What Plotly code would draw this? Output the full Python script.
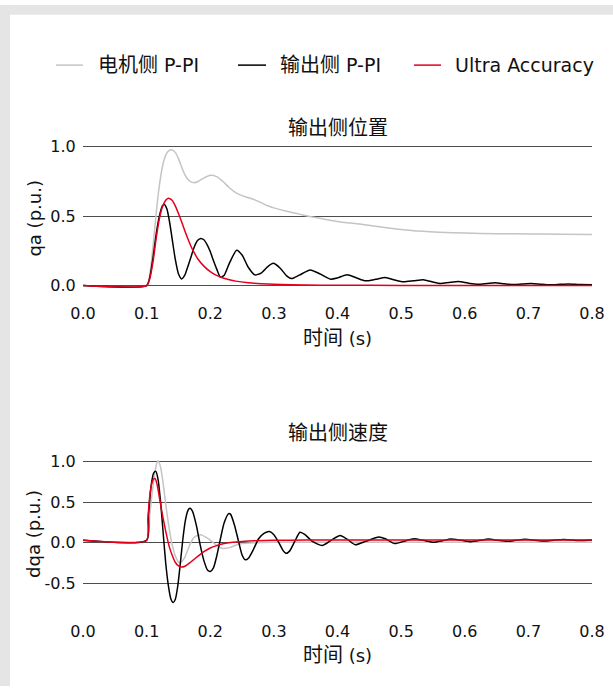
import plotly.graph_objects as go
from plotly.subplots import make_subplots

# ---------------- data ----------------
series_names = ["电机侧 P-PI", "输出侧 P-PI", "Ultra Accuracy"]
x_ticks = [0.0, 0.1, 0.2, 0.3, 0.4, 0.5, 0.6, 0.7, 0.8]
x_tick_labels = ["0.0", "0.1", "0.2", "0.3", "0.4", "0.5", "0.6", "0.7", "0.8"]
pos_ticks = [0.0, 0.5, 1.0]
pos_tick_labels = ["0.0", "0.5", "1.0"]
vel_ticks = [-0.5, 0.0, 0.5, 1.0]
vel_tick_labels = ["-0.5", "0.0", "0.5", "1.0"]

# position, motor side P-PI (gray)
t_motor_pos = [0.0, 0.1, 0.105, 0.11, 0.115, 0.12, 0.125, 0.13, 0.135, 0.14, 0.145, 0.15, 0.155,
               0.16, 0.165, 0.17, 0.175, 0.18, 0.19, 0.2, 0.21, 0.22, 0.23, 0.24, 0.25, 0.26,
               0.27, 0.28, 0.29, 0.30, 0.32, 0.34, 0.36, 0.38, 0.40, 0.44, 0.48, 0.52, 0.56,
               0.60, 0.65, 0.70, 0.75, 0.80]
motor_pos = [0.0, 0.0, 0.08, 0.28, 0.52, 0.72, 0.86, 0.94, 0.972, 0.978, 0.96, 0.915, 0.855,
             0.80, 0.765, 0.747, 0.742, 0.748, 0.775, 0.795, 0.785, 0.75, 0.705, 0.67, 0.648, 0.633,
             0.618, 0.598, 0.575, 0.56, 0.535, 0.515, 0.495, 0.478, 0.462, 0.44, 0.415, 0.395, 0.385,
             0.378, 0.374, 0.372, 0.37, 0.368]

# position, output side P-PI (black)
t_out_pos = [0.0, 0.1, 0.105, 0.11, 0.115, 0.12, 0.125, 0.128, 0.132, 0.136, 0.14, 0.145, 0.15,
             0.155, 0.16, 0.165, 0.17, 0.175, 0.18, 0.185, 0.19, 0.195, 0.2, 0.205, 0.21, 0.216,
             0.222, 0.23, 0.2415, 0.25, 0.26, 0.27, 0.28, 0.29, 0.299, 0.31, 0.32, 0.328, 0.34,
             0.357, 0.372, 0.389, 0.4, 0.415, 0.43, 0.444, 0.46, 0.475, 0.49, 0.504, 0.52, 0.535,
             0.55, 0.562, 0.575, 0.59, 0.605, 0.62, 0.635, 0.648, 0.662, 0.677, 0.69, 0.705, 0.72,
             0.735, 0.75, 0.763, 0.78, 0.8]
out_pos = [0.0, 0.0, 0.06, 0.2, 0.37, 0.5, 0.575, 0.585, 0.55, 0.46, 0.34, 0.19, 0.085,
           0.048, 0.075, 0.14, 0.21, 0.28, 0.325, 0.34, 0.33, 0.295, 0.245, 0.18, 0.12, 0.06,
           0.075, 0.16, 0.255, 0.22, 0.13, 0.077, 0.09, 0.135, 0.16, 0.125, 0.07, 0.05, 0.075,
           0.112, 0.085, 0.046, 0.055, 0.078, 0.055, 0.034, 0.045, 0.058, 0.04, 0.027, 0.035, 0.042,
           0.025, 0.015, 0.022, 0.029, 0.018, 0.01, 0.015, 0.02, 0.013, 0.007, 0.011, 0.015, 0.009,
           0.005, 0.009, 0.012, 0.007, 0.006]

# position, Ultra Accuracy (red)
t_ua_pos = [0.0, 0.1, 0.105, 0.11, 0.115, 0.12, 0.125, 0.13, 0.134, 0.14, 0.145, 0.15, 0.155,
            0.16, 0.165, 0.17, 0.175, 0.18, 0.19, 0.2, 0.21, 0.22, 0.23, 0.24, 0.26, 0.28, 0.3,
            0.35, 0.4, 0.5, 0.6, 0.8]
ua_pos = [0.0, 0.0, 0.05, 0.17, 0.34, 0.48, 0.57, 0.615, 0.63, 0.615, 0.575, 0.52, 0.46,
          0.395, 0.335, 0.28, 0.235, 0.195, 0.14, 0.1, 0.073, 0.055, 0.042, 0.032, 0.02, 0.013, 0.009,
          0.004, 0.002, 0.001, 0.0, 0.0]

# velocity, motor side P-PI (gray)
t_motor_vel = [0.0, 0.1, 0.105, 0.11, 0.115, 0.118, 0.122, 0.126, 0.13, 0.135, 0.14, 0.145, 0.15,
               0.153, 0.16, 0.165, 0.17, 0.175, 0.185, 0.195, 0.205, 0.213, 0.22, 0.23, 0.24, 0.25,
               0.27, 0.3, 0.4, 0.5, 0.6, 0.8]
motor_vel = [0.03, 0.03, 0.35, 0.7, 0.95, 1.01, 0.93, 0.73, 0.48, 0.2, -0.02, -0.16, -0.235,
             -0.245, -0.18, -0.08, 0.01, 0.07, 0.10, 0.06, 0.0, -0.05, -0.07, -0.06, -0.03, -0.01,
             0.0, 0.005, 0.007, 0.007, 0.007, 0.007]

# velocity, output side P-PI (black)
t_out_vel = [0.0, 0.1, 0.103, 0.107, 0.111, 0.1145, 0.118, 0.122, 0.126, 0.13, 0.134, 0.138,
             0.1417, 0.145, 0.149, 0.153, 0.157, 0.161, 0.165, 0.168, 0.172, 0.178, 0.184, 0.19,
             0.196, 0.2, 0.205, 0.21, 0.216, 0.222, 0.229, 0.232, 0.238, 0.245, 0.25, 0.255, 0.26,
             0.268, 0.276, 0.285, 0.293, 0.3, 0.308, 0.314, 0.319, 0.325, 0.333, 0.341, 0.349,
             0.36, 0.376, 0.39, 0.404, 0.415, 0.428, 0.445, 0.465, 0.475, 0.49, 0.505, 0.52, 0.535,
             0.551, 0.565, 0.578, 0.595, 0.61, 0.625, 0.637, 0.652, 0.667, 0.68, 0.695, 0.71, 0.725,
             0.74, 0.755, 0.77, 0.785, 0.8]
out_vel = [0.03, 0.03, 0.35, 0.7, 0.86, 0.88, 0.78, 0.5, 0.12, -0.25, -0.52, -0.69,
           -0.737, -0.70, -0.53, -0.25, 0.05, 0.28, 0.40, 0.425, 0.39, 0.22, -0.02, -0.22,
           -0.34, -0.355, -0.31, -0.17, 0.05, 0.25, 0.36, 0.35, 0.22, 0.0, -0.15, -0.21, -0.19,
           -0.08, 0.05, 0.12, 0.14, 0.10, 0.0, -0.09, -0.13, -0.10, 0.02, 0.13, 0.10,
           0.02, -0.035, 0.03, 0.089, 0.045, -0.025, 0.02, 0.07, 0.05, -0.01, 0.02, 0.05, 0.03,
           0.005, 0.025, 0.048, 0.03, 0.014, 0.03, 0.045, 0.03, 0.018, 0.03, 0.042, 0.032, 0.022,
           0.032, 0.04, 0.033, 0.027, 0.033]

# velocity, Ultra Accuracy (red)
t_ua_vel = [0.0, 0.1, 0.102, 0.105, 0.108, 0.111, 0.1135, 0.117, 0.12, 0.124, 0.128, 0.132,
            0.136, 0.14, 0.145, 0.15, 0.155, 0.16, 0.168, 0.18, 0.19, 0.2, 0.21, 0.22, 0.235,
            0.25, 0.27, 0.3, 0.35, 0.4, 0.5, 0.6, 0.7, 0.8]
ua_vel = [0.032, 0.032, 0.3, 0.58, 0.73, 0.785, 0.79, 0.7, 0.56, 0.38, 0.22, 0.07,
          -0.06, -0.15, -0.24, -0.285, -0.30, -0.29, -0.245, -0.17, -0.11, -0.065, -0.035, -0.012, 0.007,
          0.017, 0.025, 0.03, 0.033, 0.034, 0.035, 0.035, 0.035, 0.035]

# ---------------- styling ----------------
W, H = 613, 691
ML, MR = 83, 21
PW = W - ML - MR
GRAY, BLACK, RED = "#c4c4c4", "#000000", "#e4001b"
colors = [GRAY, BLACK, RED]
LATIN = "DejaVu Sans, Noto Sans CJK SC, sans-serif"
TXT = "#111111"


def px(xp):
    return (xp - ML) / PW


def py(yp):
    return 1 - yp / H


def cjk(s, size=20):
    return f'<span style="font-size:{size}px">{s}</span>'


fig = make_subplots(rows=2, cols=1)

pos_sets = [(t_motor_pos, motor_pos), (t_out_pos, out_pos), (t_ua_pos, ua_pos)]
vel_sets = [(t_motor_vel, motor_vel), (t_out_vel, out_vel), (t_ua_vel, ua_vel)]
for (tx, vy), c, n in zip(pos_sets, colors, series_names):
    fig.add_trace(go.Scatter(x=tx, y=vy, mode="lines", name=n, showlegend=False,
                             line=dict(color=c, width=1.5, shape="spline", smoothing=0.6)),
                  row=1, col=1)
for (tx, vy), c, n in zip(vel_sets, colors, series_names):
    fig.add_trace(go.Scatter(x=tx, y=vy, mode="lines", name=n, showlegend=False,
                             line=dict(color=c, width=1.5, shape="spline", smoothing=0.6)),
                  row=2, col=1)

# axis domains (pixel-derived)
pos_range = [-0.03, 1.03]
vel_range = [-0.8, 1.08]
pos_dom = [py(288.9), py(139.7)]
vel_dom = [py(611.5), py(456.8)]

axis_common = dict(showline=False, zeroline=False, tickfont=dict(family=LATIN, size=16, color=TXT))
fig.update_xaxes(range=[0, 0.8], tickvals=x_ticks, ticktext=x_tick_labels, showgrid=False,
                 ticks="outside", ticklen=9, tickcolor="rgba(0,0,0,0)", domain=[0, 1],
                 **axis_common)
fig.update_yaxes(showgrid=True, gridcolor="#4d4d4d", gridwidth=1,
                 ticks="outside", ticklen=3, tickcolor="rgba(0,0,0,0)", **axis_common)
fig.update_yaxes(range=pos_range, tickvals=pos_ticks, ticktext=pos_tick_labels, domain=pos_dom,
                 row=1, col=1)
fig.update_yaxes(range=vel_range, tickvals=vel_ticks, ticktext=vel_tick_labels, domain=vel_dom,
                 row=2, col=1)

shapes = [
    dict(type="rect", xref="paper", yref="paper", x0=px(0), x1=px(W), y0=py(H), y1=py(0),
         fillcolor="#e5e5e5", line=dict(width=0), layer="below"),
    dict(type="rect", xref="paper", yref="paper", x0=px(10), x1=px(W + 5), y0=py(H + 5), y1=py(10),
         fillcolor="#ffffff", line=dict(width=0), layer="below"),
]
# legend (manual)
leg_lines = [(56, 83), (238, 266), (414, 441)]
leg_text_x = [96, 278, 453]
leg_labels = [cjk("电机侧", 20) + " P-PI", cjk("输出侧", 20) + " P-PI", "Ultra Accuracy"]
annotations = []
for (x0, x1), c, tx, lab in zip(leg_lines, colors, leg_text_x, leg_labels):
    shapes.append(dict(type="line", xref="paper", yref="paper", x0=px(x0), x1=px(x1),
                       y0=py(61), y1=py(61), line=dict(color=c, width=1.5)))
    annotations.append(dict(text=lab, xref="paper", yref="paper", x=px(tx), y=py(61),
                            xanchor="left", yanchor="middle", showarrow=False,
                            font=dict(family=LATIN, size=19, color=TXT)))

mid = px((ML + W - MR) / 2)
annotations += [
    dict(text=cjk("输出侧位置", 20), x=mid, y=py(125)),
    dict(text=cjk("输出侧速度", 20), x=mid, y=py(434)),
    dict(text=cjk("时间", 20) + " (s)", x=mid, y=py(338)),
    dict(text=cjk("时间", 20) + " (s)", x=mid, y=py(660)),
    dict(text="qa (p.u.)", x=px(35), y=py(216.7), textangle=-90),
    dict(text="dqa (p.u.)", x=px(34), y=py(536.7), textangle=-90),
]
for a in annotations[3:]:
    a.setdefault("xref", "paper")
    a.setdefault("yref", "paper")
    a.setdefault("showarrow", False)
    a.setdefault("xanchor", "center")
    a.setdefault("yanchor", "middle")
    a.setdefault("font", dict(family=LATIN, size=18, color=TXT))

fig.update_layout(width=W, height=H, margin=dict(l=ML, r=MR, t=0, b=0),
                  paper_bgcolor="#ffffff", plot_bgcolor="rgba(0,0,0,0)",
                  shapes=shapes, annotations=annotations, showlegend=False)

fig.write_html("out.html")
